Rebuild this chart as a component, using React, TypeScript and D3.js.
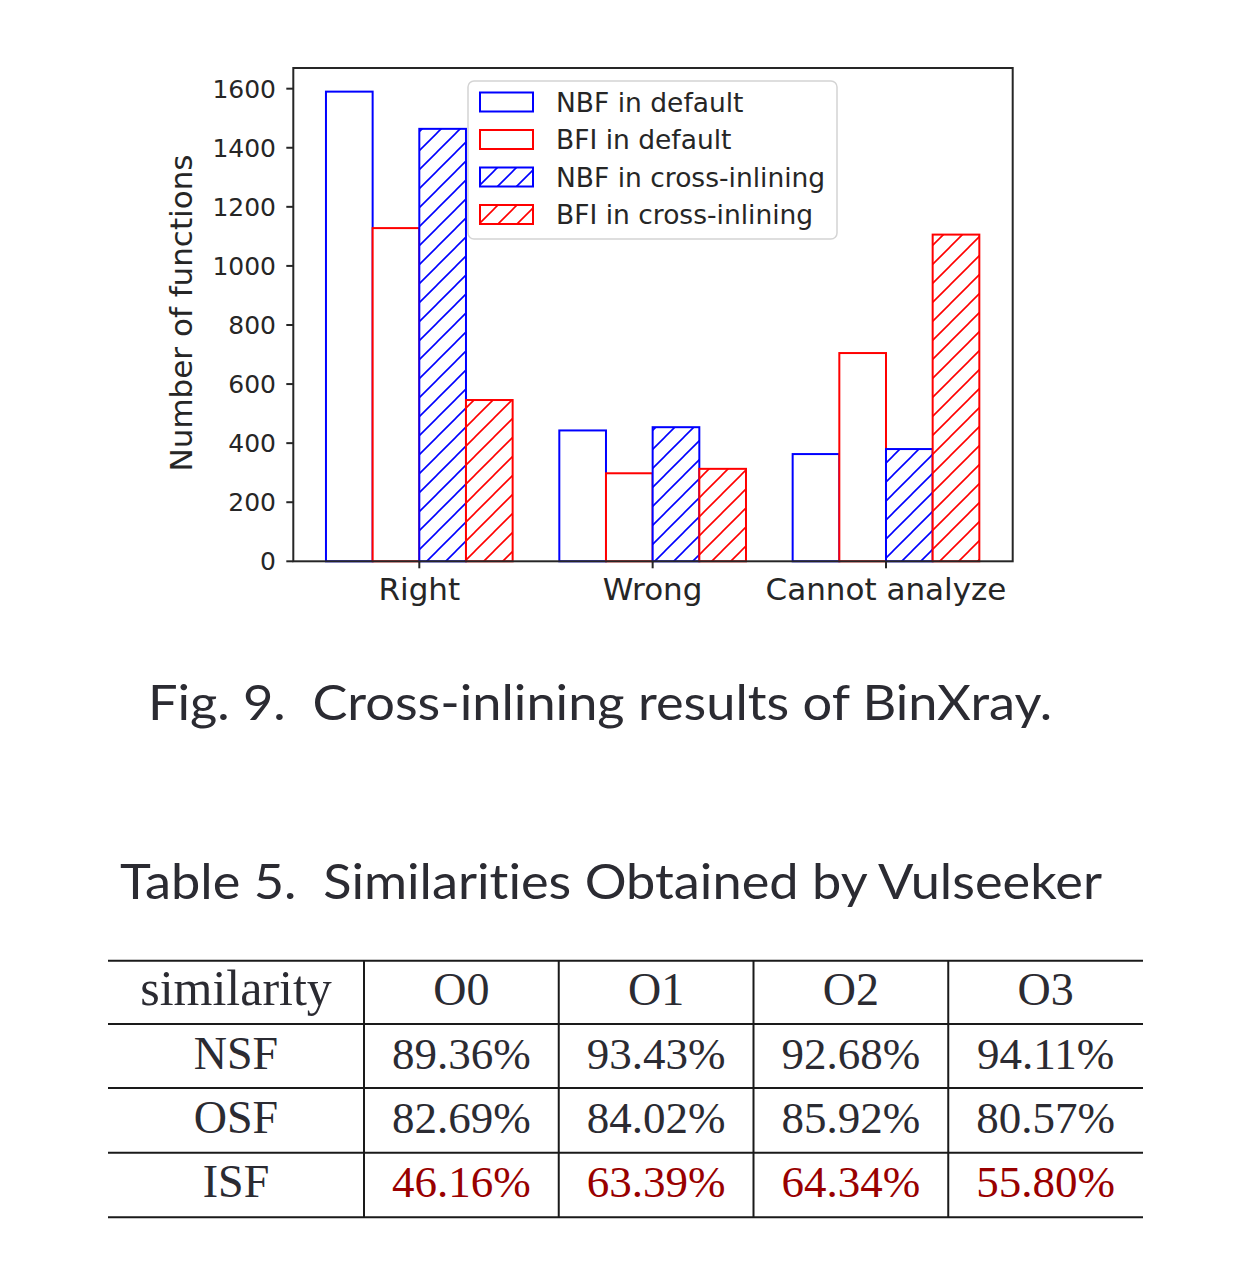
import * as d3 from 'd3';

const categories = ['Right', 'Wrong', 'Cannot analyze'];
const seriesNames = ['NBF in default', 'BFI in default', 'NBF in cross-inlining', 'BFI in cross-inlining'];
const seriesColors = ['#0000ff', '#ff0000', '#0000ff', '#ff0000'];
const seriesHatched = [false, false, true, true];
const nbfDefault = [1590, 443, 363];
const bfiDefault = [1128, 298, 705];
const nbfCross = [1464, 454, 380];
const bfiCross = [546, 313, 1106];
const yTicks = [0, 200, 400, 600, 800, 1000, 1200, 1400, 1600];

const tableHeader = ['similarity', 'O0', 'O1', 'O2', 'O3'];
const rowLabels = ['NSF', 'OSF', 'ISF'];
const nsfValues = ['89.36%', '93.43%', '92.68%', '94.11%'];
const osfValues = ['82.69%', '84.02%', '85.92%', '80.57%'];
const isfValues = ['46.16%', '63.39%', '64.34%', '55.80%'];

const W = 1236;
const H = 1262;
const plot = { left: 293.3, right: 1012.7, top: 68, bottom: 561.3 };
const barW = 0.2;
const axisColor = '#262626';
const tickFont = 'DejaVu Sans, sans-serif';

export default function App() {
  const series = [nbfDefault, bfiDefault, nbfCross, bfiCross];

  const x = d3.scaleLinear().domain([-0.54, 2.543]).range([plot.left, plot.right]);
  const y = d3.scaleLinear().domain([0, 1670]).range([plot.bottom, plot.top]);

  const rowY = d3.scaleBand<number>().domain([0, 1, 2, 3]).range([960.7, 1217.3]);
  const colX = d3.scaleBand<number>().domain([0, 1, 2, 3]).range([364, 1143]);
  const tableLeft = 108;
  const tableRows = [nsfValues, osfValues, isfValues];
  const textColor = '#2b2b32';

  return (
    <svg width={W} height={H} style={{ position: 'absolute', left: 0, top: 0, background: '#fff' }}>
      <defs>
        {['#0000ff', '#ff0000'].map((c, i) => (
          <pattern key={c} id={`hatch${i}`} patternUnits="userSpaceOnUse" width={19} height={19}>
            <rect width={19} height={19} fill="#fff" />
            <path d="M0,19 L19,0 M-4.75,4.75 L4.75,-4.75 M14.25,23.75 L23.75,14.25" stroke={c} strokeWidth={1.6} />
          </pattern>
        ))}
      </defs>

      {/* bars */}
      {series.map((vals, k) =>
        vals.map((v, g) => {
          const x0 = x(g + (k - 2) * barW);
          const x1 = x(g + (k - 1) * barW);
          return (
            <rect
              key={`${k}-${g}`}
              x={x0}
              y={y(v)}
              width={x1 - x0}
              height={y(0) - y(v)}
              fill={seriesHatched[k] ? `url(#hatch${k % 2})` : '#fff'}
              stroke={seriesColors[k]}
              strokeWidth={2}
            />
          );
        })
      )}

      {/* frame */}
      <rect
        x={plot.left}
        y={plot.top}
        width={plot.right - plot.left}
        height={plot.bottom - plot.top}
        fill="none"
        stroke={axisColor}
        strokeWidth={2}
      />

      {/* y axis */}
      {yTicks.map((t) => (
        <g key={t}>
          <line x1={plot.left - 7} x2={plot.left} y1={y(t)} y2={y(t)} stroke={axisColor} strokeWidth={2} />
          <text x={276} y={y(t)} dy="0.36em" textAnchor="end" fontFamily={tickFont} fontSize={25} fill={axisColor}>
            {t}
          </text>
        </g>
      ))}
      <text
        transform="translate(192,313) rotate(-90)"
        textAnchor="middle"
        fontFamily={tickFont}
        fontSize={31}
        fill={axisColor}
      >
        Number of functions
      </text>

      {/* x axis */}
      {categories.map((c, g) => (
        <g key={c}>
          <line x1={x(g)} x2={x(g)} y1={plot.bottom} y2={plot.bottom + 7} stroke={axisColor} strokeWidth={2} />
          <text x={x(g)} y={600} textAnchor="middle" fontFamily={tickFont} fontSize={31} fill={axisColor}>
            {c}
          </text>
        </g>
      ))}

      {/* legend */}
      <rect x={468} y={81} width={369} height={158} rx={6} fill="#fff" fillOpacity={0.8} stroke="#d4d4d4" strokeWidth={1.5} />
      {seriesNames.map((name, k) => {
        const cy = 102 + k * 37.5;
        return (
          <g key={name}>
            <rect
              x={480}
              y={cy - 9.5}
              width={53}
              height={19}
              fill={seriesHatched[k] ? `url(#hatch${k % 2})` : '#fff'}
              stroke={seriesColors[k]}
              strokeWidth={2}
            />
            <text x={556} y={cy} dy="0.36em" fontFamily={tickFont} fontSize={26.5} fill={axisColor}>
              {name}
            </text>
          </g>
        );
      })}

      {/* figure caption */}
      <text
        x={148}
        y={720}
        fontFamily="Lato, sans-serif"
        fontSize={49}
        fill={textColor}
        textLength={904}
        lengthAdjust="spacingAndGlyphs"
        style={{ whiteSpace: 'pre', fontVariantLigatures: 'none' }}
      >
        {'Fig. 9.  Cross-inlining results of BinXray.'}
      </text>

      {/* table caption */}
      <text
        x={120}
        y={899}
        fontFamily="Lato, sans-serif"
        fontSize={49}
        fill={textColor}
        textLength={982}
        lengthAdjust="spacingAndGlyphs"
        style={{ whiteSpace: 'pre', fontVariantLigatures: 'none' }}
      >
        {'Table 5.  Similarities Obtained by Vulseeker'}
      </text>

      {/* table lines */}
      {[960.7, 1024, 1088, 1152.7, 1217.3].map((ly, i) => (
        <line key={i} x1={tableLeft} x2={1143} y1={ly} y2={ly} stroke="#1a1a1a" strokeWidth={2} />
      ))}
      {[0, 1, 2, 3].map((c) => (
        <line key={c} x1={colX(c)} x2={colX(c)} y1={960.7} y2={1217.3} stroke="#1a1a1a" strokeWidth={2} />
      ))}

      {/* table text */}
      {tableHeader.map((h, i) => {
        const cx = i === 0 ? (tableLeft + colX(0)!) / 2 : colX(i - 1)! + colX.bandwidth() / 2;
        return (
          <text
            key={h}
            x={cx}
            y={rowY(0)! + rowY.bandwidth() / 2 + 12}
            textAnchor="middle"
            fontFamily="Liberation Serif, serif"
            fontSize={i === 0 ? 50 : 46}
            fill={textColor}
          >
            {h}
          </text>
        );
      })}
      {rowLabels.map((r, ri) => {
        const by = rowY(ri + 1)! + rowY.bandwidth() / 2 + 12;
        return (
          <g key={r}>
            <text
              x={(tableLeft + colX(0)!) / 2}
              y={by}
              textAnchor="middle"
              fontFamily="Liberation Serif, serif"
              fontSize={46}
              fill={textColor}
            >
              {r}
            </text>
            {tableRows[ri].map((v, ci) => (
              <text
                key={ci}
                x={colX(ci)! + colX.bandwidth() / 2}
                y={by}
                textAnchor="middle"
                fontFamily="Liberation Serif, serif"
                fontSize={45}
                fill={r === 'ISF' ? '#990000' : textColor}
              >
                {v}
              </text>
            ))}
          </g>
        );
      })}
    </svg>
  );
}
